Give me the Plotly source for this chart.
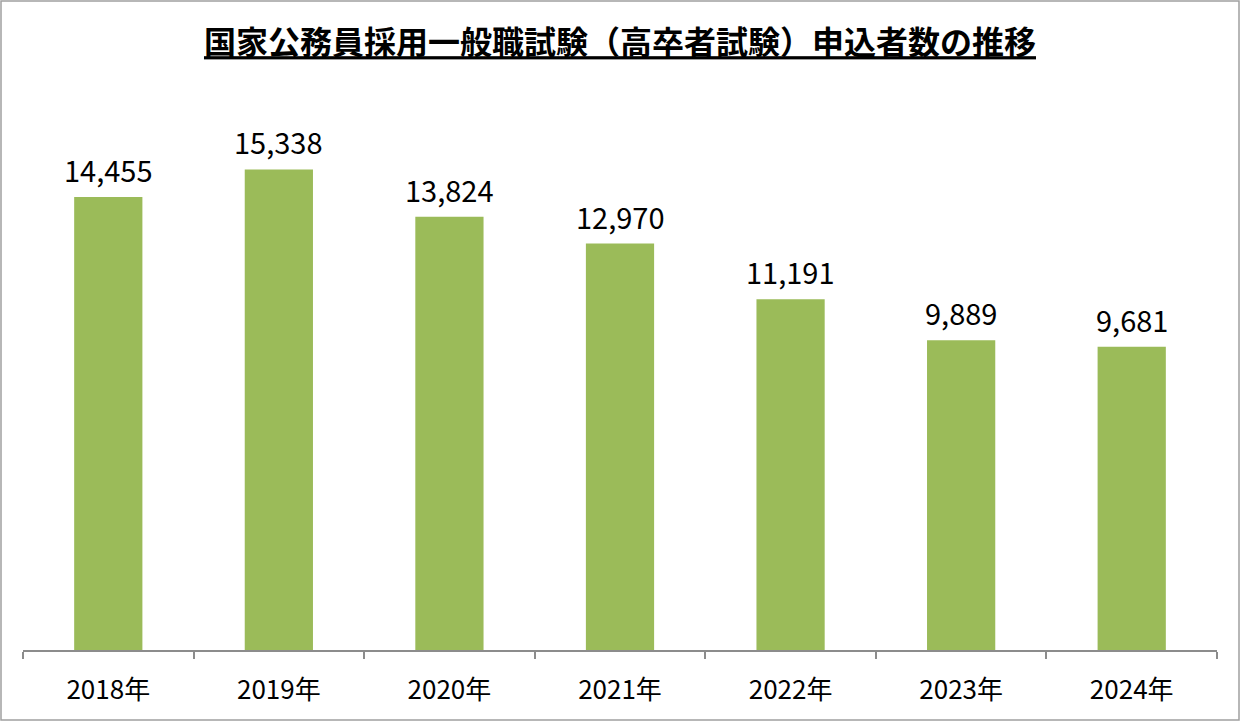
import plotly.graph_objects as go

years = ["2018年", "2019年", "2020年", "2021年", "2022年", "2023年", "2024年"]
applicants = [14455, 15338, 13824, 12970, 11191, 9889, 9681]
labels = [f"{v:,}" for v in applicants]

title_text = "国家公務員採用一般職試験（高卒者試験）申込者数の推移"

W, H = 1241, 722
ml, mr, mt, mb = 23, 24, 86, 72
pw, ph = W - ml - mr, H - mt - mb

fig = go.Figure(go.Bar(
    x=years, y=applicants,
    marker=dict(color="#9BBB59", line=dict(width=0)),
    hoverinfo="x+y",
))

for yr, v, lab in zip(years, applicants, labels):
    fig.add_annotation(x=yr, y=v, text=lab, showarrow=False, xref="x", yref="y",
                       yanchor="middle", yshift=28,
                       font=dict(size=29, color="#000000", family="Noto Sans CJK JP"))

def px(x):
    return (x - ml) / pw

def py(y):
    return (H - mb - y) / ph

fig.update_layout(
    width=W, height=H,
    margin=dict(l=ml, r=mr, t=mt, b=mb),
    paper_bgcolor="white", plot_bgcolor="white",
    bargap=0.6,
    showlegend=False,
    font=dict(family="Noto Sans CJK JP", color="#000000"),
    title=dict(text=f"<b><u>{title_text}</u></b>", x=0.5, xref="paper", xanchor="center",
               y=1 - 43 / H, yanchor="middle", yref="container",
               font=dict(size=32, family="Noto Sans CJK JP", color="#000000")),
    xaxis=dict(
        type="category", tickson="boundaries", ticks="outside", ticklen=7,
        tickcolor="#8C8C8C", tickwidth=1.5, showline=True, linecolor="#8C8C8C", linewidth=1.5,
        showgrid=False, tickfont=dict(size=26, family="Noto Sans CJK JP", color="#000000"),
        ticklabelstandoff=16,
    ),
    yaxis=dict(range=[0, 18000], visible=False, showgrid=False),
    shapes=[dict(type="rect", xref="paper", yref="paper",
                 x0=px(1), x1=px(W - 2), y0=py(H - 2), y1=py(1),
                 line=dict(color="#A0A0A0", width=1.5), fillcolor="rgba(0,0,0,0)")],
)

fig.write_html("out.html", config={"displayModeBar": False},
               post_script="document.body.style.margin='0px';")
